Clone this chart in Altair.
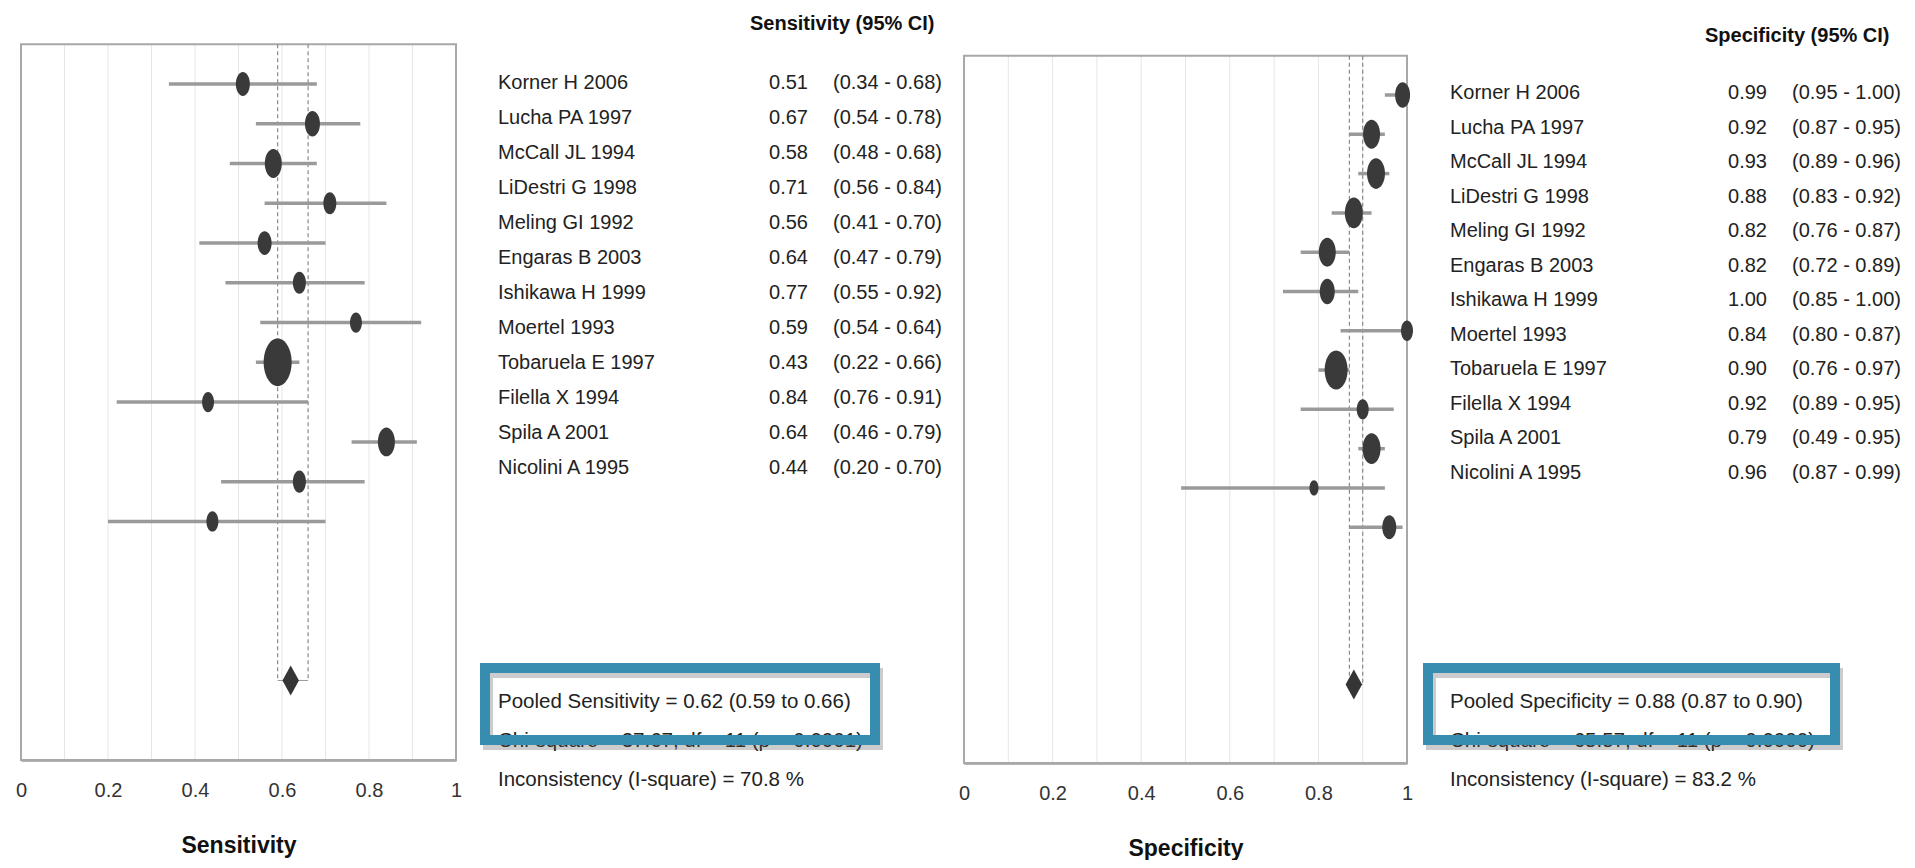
import altair as alt
import pandas as pd

# ---------------- data ----------------
studies = ["Korner H 2006", "Lucha PA 1997", "McCall JL 1994", "LiDestri G 1998",
           "Meling GI 1992", "Engaras B 2003", "Ishikawa H 1999", "Moertel 1993",
           "Tobaruela E 1997", "Filella X 1994", "Spila A 2001", "Nicolini A 1995"]

sens = [0.51, 0.67, 0.58, 0.71, 0.56, 0.64, 0.77, 0.59, 0.43, 0.84, 0.64, 0.44]
sens_lo = [0.34, 0.54, 0.48, 0.56, 0.41, 0.47, 0.55, 0.54, 0.22, 0.76, 0.46, 0.20]
sens_hi = [0.68, 0.78, 0.68, 0.84, 0.70, 0.79, 0.92, 0.64, 0.66, 0.91, 0.79, 0.70]
sens_weight = [14, 15, 17, 13, 14, 13, 12, 28, 12, 17, 13, 12]

spec = [0.99, 0.92, 0.93, 0.88, 0.82, 0.82, 1.00, 0.84, 0.90, 0.92, 0.79, 0.96]
spec_lo = [0.95, 0.87, 0.89, 0.83, 0.76, 0.72, 0.85, 0.80, 0.76, 0.89, 0.49, 0.87]
spec_hi = [1.00, 0.95, 0.96, 0.92, 0.87, 0.89, 1.00, 0.87, 0.97, 0.95, 0.95, 0.99]
spec_weight = [15, 17, 18, 18, 17, 15, 12, 23, 12, 18, 9, 14]

pooled_sens = [0.62, 0.59, 0.66]
pooled_spec = [0.88, 0.87, 0.90]
chi_sens = ["37.67", "11", "0.0001"]
chi_spec = ["65.57", "11", "0.0000"]
isq_sens = "70.8"
isq_spec = "83.2"

tick_values = [0, 0.2, 0.4, 0.6, 0.8, 1]
grid_values = [0.1, 0.2, 0.3, 0.4, 0.5, 0.6, 0.7, 0.8, 0.9]

FONT = "Liberation Sans"
ELLIPSE = "M-1,0A1,1.7 0 1,0 1,0A1,1.7 0 1,0 -1,0Z"
DIAMOND = "M0,-1L0.55,0L0,1L-0.55,0Z"
BOX_BLUE = "#368db0"


def frame_df(est, lo, hi, w):
    return pd.DataFrame({"study": studies, "est": est, "lo": lo, "hi": hi,
                         "w": w, "row": list(range(len(studies)))})


def forest(est, lo, hi, w, pooled, title, width, height, row0_px):
    df = frame_df(est, lo, hi, w)
    n = len(df)
    top_row, pooled_row, bottom_row = -1, n + 3, n + 5
    a = -bottom_row * row0_px / (height - row0_px)
    ys = alt.Scale(domain=[a, bottom_row], reverse=True, nice=False, zero=False)
    xs = alt.Scale(domain=[0, 1], nice=False, zero=False)
    xaxis = alt.Axis(values=tick_values, format="~g", title=title, labelFlush=False,
                     ticks=False, tickSize=0, grid=False, domainColor="#6a6a6a",
                     domainWidth=2, labelFont=FONT, labelFontSize=20, labelColor="#333",
                     labelPadding=30, labelBaseline="middle", titleFont=FONT,
                     titleFontSize=23, titleFontWeight="bold", titleColor="#111",
                     titleY=85, titleBaseline="middle")

    def X(f):
        return alt.X(f, type="quantitative", scale=xs, axis=xaxis)

    def Y(f):
        return alt.Y(f, type="quantitative", scale=ys, axis=None)

    grid = alt.Chart(pd.DataFrame({"x": grid_values, "y": top_row, "y2": bottom_row})).mark_rule(
        color="#e6e6e6", strokeWidth=1).encode(x=X("x"), y=Y("y"), y2="y2")
    frame = alt.Chart(pd.DataFrame({"x": [0], "x2": [1], "y": [top_row], "y2": [bottom_row]})).mark_rect(
        fillOpacity=0, stroke="#a8a8a8", strokeWidth=2).encode(x=X("x"), x2="x2", y=Y("y"), y2="y2")
    dashed = alt.Chart(pd.DataFrame({"x": pooled[1:], "y": top_row, "y2": pooled_row})).mark_rule(
        color="#8a8a8a", strokeWidth=1.2, strokeDash=[4, 3]).encode(x=X("x"), y=Y("y"), y2="y2")
    pooled_ci = alt.Chart(pd.DataFrame({"lo": [pooled[1]], "hi": [pooled[2]], "y": [pooled_row]})).mark_rule(
        color="#9a9a9a", strokeWidth=1).encode(x=X("lo"), x2="hi", y=Y("y"))
    ci = alt.Chart(df).mark_rule(color="#9a9a9a", strokeWidth=3.5).encode(
        x=X("lo"), x2="hi", y=Y("row"))
    pts = alt.Chart(df).mark_point(shape=ELLIPSE, filled=True, color="#3a3a3a", opacity=1).encode(
        x=X("est"), y=Y("row"),
        size=alt.Size("w:Q", scale=alt.Scale(type="pow", exponent=2, domain=[0, 30], range=[0, 900]),
                      legend=None))
    dia = alt.Chart(pd.DataFrame({"x": [pooled[0]], "y": [pooled_row]})).mark_point(
        shape=DIAMOND, size=900, filled=True, color="#353535", opacity=1).encode(x=X("x"), y=Y("y"))
    return alt.layer(grid, frame, dashed, pooled_ci, ci, pts, dia).properties(width=width, height=height)


def table(est, lo, hi, header, label, pooled, chi, isq, width, height, row0_px, row_step,
          name_x, val_x, ci_x, header_x, header_y, box):
    df = pd.DataFrame({"study": studies, "row": list(range(len(studies))),
                       "val": [f"{v:.2f}" for v in est],
                       "ci": [f"({l:.2f} - {h:.2f})" for l, h in zip(lo, hi)]})
    a = -row0_px / row_step
    ys = alt.Scale(domain=[a, a + height / row_step], reverse=True, nice=False, zero=False)
    Y = alt.Y("row:Q", scale=ys, axis=None)
    base = alt.Chart(df)
    names = base.mark_text(align="left", baseline="middle", font=FONT, fontSize=20, color="#222").encode(
        x=alt.value(name_x), y=Y, text="study:N")
    vals = base.mark_text(align="right", baseline="middle", font=FONT, fontSize=20, color="#222").encode(
        x=alt.value(val_x), y=Y, text="val:N")
    cis = base.mark_text(align="left", baseline="middle", font=FONT, fontSize=20, color="#222").encode(
        x=alt.value(ci_x), y=Y, text="ci:N")
    head = alt.Chart(pd.DataFrame({"t": [header]})).mark_text(
        align="left", baseline="middle", font=FONT, fontSize=20, fontWeight="bold", color="#111").encode(
        x=alt.value(header_x), y=alt.value(header_y), text="t:N")
    lines = [f"Pooled {label} = {pooled[0]:.2f} ({pooled[1]:.2f} to {pooled[2]:.2f})",
             f"Chi-square = {chi[0]}; df = {chi[1]} (p = {chi[2]})",
             f"Inconsistency (I-square) = {isq} %"]
    stats = alt.Chart(pd.DataFrame({"t": ["\n".join(lines)]})).mark_text(
        align="left", baseline="middle", font=FONT, fontSize=20.5, color="#222",
        lineBreak="\n", lineHeight=39).encode(x=alt.value(name_x), y=alt.value(694), text="t:N")
    bx0, bx1, by0, by1 = box
    shadow = alt.Chart(pd.DataFrame({"k": [0]})).mark_rect(
        fillOpacity=0, stroke="#555", strokeOpacity=0.3, strokeWidth=10).encode(
        x=alt.value(bx0 + 3), x2=alt.value(bx1 + 3), y=alt.value(by0 + 5), y2=alt.value(by1 + 5))
    frame = alt.Chart(pd.DataFrame({"k": [0]})).mark_rect(
        fillOpacity=0, stroke=BOX_BLUE, strokeWidth=10).encode(
        x=alt.value(bx0), x2=alt.value(bx1), y=alt.value(by0), y2=alt.value(by1))
    return alt.layer(names, vals, cis, head, stats, shadow, frame).properties(width=width, height=height)


p1 = forest(sens, sens_lo, sens_hi, sens_weight, pooled_sens, "Sensitivity", 435, 752, 76)
t1 = table(sens, sens_lo, sens_hi, "Sensitivity (95% CI)", "Sensitivity", pooled_sens, chi_sens,
           isq_sens, 508, 760, 75, 35.0, 42, 352, 377, 294, 16, (29, 419, 660, 732))
p2 = forest(spec, spec_lo, spec_hi, spec_weight, pooled_spec, "Specificity", 443, 755, 87)
t2 = table(spec, spec_lo, spec_hi, "Specificity (95% CI)", "Specificity", pooled_spec, chi_spec,
           isq_spec, 500, 760, 85, 34.5, 43, 360, 385, 298, 28, (21, 428, 660, 732))

chart = alt.hconcat(p1, t1, p2, t2, spacing=0, bounds="flush").properties(
    padding={"left": 7, "top": 0, "right": 0, "bottom": 0}
).configure_view(strokeWidth=0)

chart.save("out.html", embed_options={"renderer": "svg", "actions": False})
